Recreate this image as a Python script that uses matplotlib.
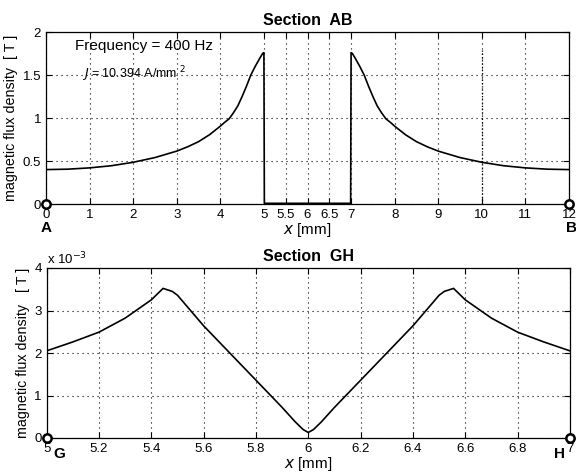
import numpy as np
import matplotlib
matplotlib.use("Agg")
import matplotlib.pyplot as plt

plt.rcParams['font.family'] = ['Liberation Sans', 'DejaVu Sans']

# ---- Section AB data (x in mm, B in T) ----
ab_x = [0, 0.5, 1, 1.5, 2, 2.5, 3, 3.25, 3.5, 3.75, 4, 4.1, 4.2, 4.3, 4.4, 4.5, 4.6, 4.7, 4.8, 4.9, 4.97, 5.0,
        5.01, 6.0, 6.99,
        7.0, 7.03, 7.1, 7.2, 7.3, 7.4, 7.5, 7.6, 7.7, 7.8, 7.9, 8, 8.25, 8.5, 8.75, 9, 9.5, 10, 10.5, 11, 11.5, 12]
ab_b = [0.400, 0.405, 0.42, 0.445, 0.485, 0.54, 0.615, 0.665, 0.725, 0.805, 0.905, 0.95, 0.99, 1.06, 1.14, 1.25, 1.37, 1.50, 1.60, 1.69, 1.75, 1.76,
        0.008, 0.008, 0.008,
        1.76, 1.75, 1.69, 1.60, 1.50, 1.37, 1.25, 1.14, 1.06, 0.99, 0.95, 0.905, 0.805, 0.725, 0.665, 0.615, 0.54, 0.485, 0.445, 0.42, 0.405, 0.400]
ab_xticks = [0, 1, 2, 3, 4, 5, 5.5, 6, 6.5, 7, 8, 9, 10, 11, 12]
ab_xticklabels = ['0', '1', '2', '3', '4', '5', '5.5', '6', '6.5', '7', '8', '9', '10', '11', '12']
ab_yticks = [0, 0.5, 1, 1.5, 2]
ab_yticklabels = ['0', '0.5', '1', '1.5', '2']
ab_points_x = [0, 12]
ab_points_lbl = ['A', 'B']
ab_extra_x = [10, 10]
ab_extra_y = [0, 1.8]

# ---- Section GH data (x in mm, B in 1e-3 T) ----
gh_x = [5.0, 5.1, 5.2, 5.3, 5.4, 5.445, 5.48, 5.5, 5.6, 5.7, 5.8, 5.9, 5.95, 5.98, 6.0,
        6.02, 6.05, 6.1, 6.2, 6.3, 6.4, 6.5, 6.52, 6.555, 6.6, 6.7, 6.8, 6.9, 7.0]
gh_b = [2.05, 2.26, 2.49, 2.82, 3.25, 3.52, 3.45, 3.36, 2.64, 2.00, 1.36, 0.72, 0.38, 0.20, 0.13,
        0.20, 0.38, 0.72, 1.36, 2.00, 2.64, 3.36, 3.45, 3.52, 3.25, 2.82, 2.49, 2.26, 2.05]
gh_xticks = [5, 5.2, 5.4, 5.6, 5.8, 6, 6.2, 6.4, 6.6, 6.8, 7]
gh_xticklabels = ['5', '5.2', '5.4', '5.6', '5.8', '6', '6.2', '6.4', '6.6', '6.8', '7']
gh_yticks = [0, 1, 2, 3, 4]
gh_points_x = [5, 7]
gh_points_lbl = ['G', 'H']

fig = plt.figure(figsize=(5.76, 4.74), dpi=100)
ax1 = fig.add_axes([46/576, 1-204/474, 523/576, 172/474])
ax2 = fig.add_axes([46.6/576, 1-438/474, 523.4/576, 170/474])

def style(ax):
    ax.grid(True, linestyle=(0, (1, 3.5)), color='black', linewidth=0.8)
    ax.tick_params(direction='in', length=4, top=True, right=True, labelsize=9.5, width=0.8)
    for s in ax.spines.values():
        s.set_linewidth(0.9)

# Top
ax1.plot(ab_x, ab_b, color='black', linewidth=1.2)
ax1.plot(ab_extra_x, ab_extra_y, color='black', linewidth=0.9, linestyle=(0, (1, 1.6)))
ax1.set_xlim(0, 12)
ax1.set_ylim(0, 2)
ax1.set_xticks(ab_xticks)
ax1.set_xticklabels(ab_xticklabels)
ax1.set_yticks(ab_yticks)
ax1.set_yticklabels(ab_yticklabels)
style(ax1)
ax1.plot(ab_points_x, [0, 0], 'o', markersize=6, markerfacecolor='white',
         markeredgecolor='black', markeredgewidth=1.8, clip_on=False, zorder=5)
ax1.set_title('Section  AB', fontsize=11.5, fontweight='bold', pad=5)
ax1.set_xlabel('$x$ [mm]', fontsize=11, labelpad=0)
ax1.set_ylabel('magnetic flux density  [ T ]', fontsize=10.3, labelpad=3)
ax1.text(0.67, 1.84, 'Frequency = 400 Hz', fontsize=11, va='center', ha='left')
ax1.text(0.83, 1.51, r'$J$ = 10.394 A/mm $^{2}$', fontsize=9, va='center', ha='left')
ax1.text(ab_points_x[0], -0.28, ab_points_lbl[0], fontsize=11, fontweight='bold',
         ha='center', va='center')
ax1.text(ab_points_x[1] + 0.05, -0.28, ab_points_lbl[1], fontsize=11, fontweight='bold',
         ha='center', va='center', clip_on=False)

# Bottom
ax2.plot(gh_x, gh_b, color='black', linewidth=1.2)
ax2.set_xlim(5, 7)
ax2.set_ylim(0, 4)
ax2.set_xticks(gh_xticks)
ax2.set_xticklabels(gh_xticklabels)
ax2.set_yticks(gh_yticks)
style(ax2)
ax2.plot(gh_points_x, [0, 0], 'o', markersize=6, markerfacecolor='white',
         markeredgecolor='black', markeredgewidth=1.8, clip_on=False, zorder=5)
ax2.set_title('Section  GH', fontsize=11.5, fontweight='bold', pad=5)
ax2.set_xlabel('$x$ [mm]', fontsize=11, labelpad=0)
ax2.set_ylabel('magnetic flux density   [ T ]', fontsize=10.3, labelpad=3)
ax2.text(0.0, 1.005, r'x 10$^{-3}$', transform=ax2.transAxes, fontsize=9.5,
         ha='left', va='bottom')
ax2.text(gh_points_x[0] + 0.05, -0.38, gh_points_lbl[0], fontsize=11, fontweight='bold',
         ha='center', va='center')
ax2.text(gh_points_x[1] - 0.04, -0.38, gh_points_lbl[1], fontsize=11, fontweight='bold',
         ha='center', va='center')

fig.savefig('out.png', dpi=100)
